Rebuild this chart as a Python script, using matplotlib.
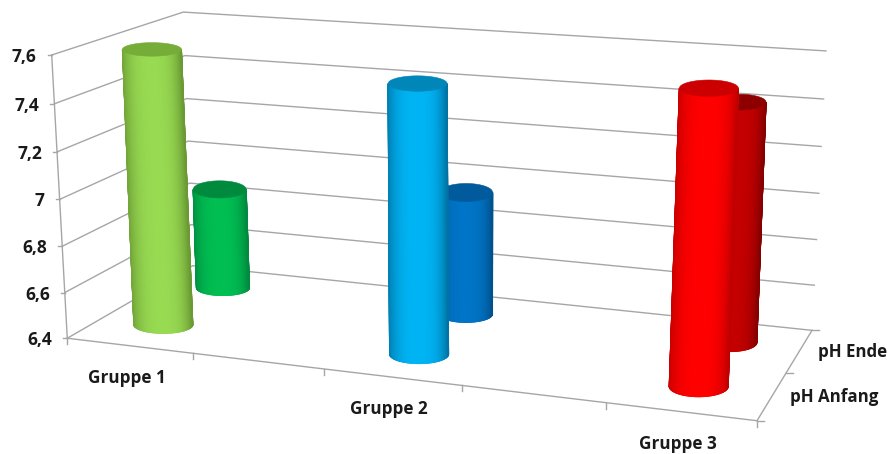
import numpy as np
import matplotlib
matplotlib.use("Agg")
import matplotlib.pyplot as plt
from matplotlib.collections import LineCollection
from matplotlib.colors import LinearSegmentedColormap

plt.rcParams["font.family"] = ["Open Sans", "DejaVu Sans"]

groups = ["Gruppe 1", "Gruppe 2", "Gruppe 3"]
group_slots = [0, 2, 4]
series = ["pH Anfang", "pH Ende"]
ph_start = [7.59, 7.525, 7.585]
ph_end = [6.86, 6.945, 7.42]
value_ticks = [6.4, 6.6, 6.8, 7.0, 7.2, 7.4, 7.6]
value_labels = ["6,4", "6,6", "6,8", "7", "7,2", "7,4", "7,6"]

# (center, edge, top) colours of each cylinder
start_colors = [("#98DA52", "#6A9A34", "#76AC38"),
                ("#00B4F4", "#0074A4", "#0086B8"),
                ("#FF0000", "#C00000", "#CC0000")]
end_colors = [("#00BE52", "#008A3E", "#008A3E"),
              ("#0074C6", "#00528E", "#005A9C"),
              ("#C40000", "#860000", "#8E0000")]

NX, NY = 5, 2
ZMIN, ZMAX = value_ticks[0], value_ticks[-1]
RY, RY_TOP = 0.22, 0.29
HALF_WIDTH = [29.5, 26.5]  # canvas pixels, front row and rear row
ROW_OFFSET = 0.52

# box corners on the canvas, used to solve the camera matrix
box_world = [(0, 0, ZMIN), (0, 0, ZMAX), (0, NY, ZMAX), (0, NY, ZMIN),
             (NX, NY, ZMAX), (NX, NY, ZMIN), (NX, 0, ZMIN)]
box_pixel = [(67, 338), (52, 55), (183, 12), (193, 266),
             (826, 51), (812, 330), (757, 421)]


def solve_camera(world, pixel):
    rows = []
    for (x, y, z), (u, v) in zip(world, pixel):
        z = (z - ZMIN) / (ZMAX - ZMIN)
        p = [x, y, z, 1]
        rows.append(p + [0, 0, 0, 0] + [-u * c for c in p])
        rows.append([0, 0, 0, 0] + p + [-v * c for c in p])
    return np.linalg.svd(np.array(rows, dtype=float))[2][-1].reshape(3, 4)


CAM = solve_camera(box_world, box_pixel)


def project(x, y, z):
    x, y, z = np.broadcast_arrays(x, y, z)
    z = (z - ZMIN) / (ZMAX - ZMIN)
    p = CAM @ np.array([x, y, z, np.ones_like(x)], dtype=float)
    return p[0] / p[2], p[1] / p[2]


def ring(cx, cy, z, half, ry, th):
    # level ellipse on the canvas around the projected centre
    uc, vc = project(cx, cy, z)
    _, v0 = project(cx, cy - ry, z)
    _, v1 = project(cx, cy + ry, z)
    return uc + half * np.cos(th), vc - (v0 - v1) / 2 * np.sin(th)


def cylinder(ax, cx, cy, value, half, colors, zorder):
    center, edge, top = colors
    cmap = LinearSegmentedColormap.from_list("body", [center, edge])
    # the half facing the viewer, left to right
    th = np.linspace(np.pi, 2 * np.pi, 73)
    bu, bv = ring(cx, cy, ZMIN, half, RY, th)
    tu, tv = ring(cx, cy, value, half, RY_TOP, th)
    off = np.cos(th)
    # left side stays lighter than the right one
    shade = np.abs(off) ** 3 * np.where(off < 0, 0.8, 1.0)
    ax.pcolormesh(np.array([bu, tu]), np.array([bv, tv]),
                  np.array([shade, shade]), cmap=cmap, vmin=0, vmax=1,
                  shading="gouraud", zorder=zorder)

    # thin outline to smooth the mesh border
    segs = [[(bu[i], bv[i]), (bu[i + 1], bv[i + 1])] for i in range(len(th) - 1)]
    seg_cols = [cmap((shade[i] + shade[i + 1]) / 2) for i in range(len(th) - 1)]
    segs += [[(bu[0], bv[0]), (tu[0], tv[0])], [(bu[-1], bv[-1]), (tu[-1], tv[-1])]]
    seg_cols += [cmap(shade[0]), cmap(shade[-1])]
    ax.add_collection(LineCollection(segs, colors=seg_cols, linewidths=0.8,
                                     zorder=zorder + 0.05))

    th = np.linspace(0, 2 * np.pi, 145)
    tu, tv = ring(cx, cy, value, half, RY_TOP, th)
    cap = ax.fill(tu, tv, color=top, lw=0.4, zorder=zorder + 0.1)[0]
    cap.set_snap(False)


fig = plt.figure(figsize=(8.93, 4.54), dpi=100)
ax = fig.add_axes([0, 0, 1, 1])
ax.set_xlim(0, 893)
ax.set_ylim(454, 0)
ax.axis("off")

grid = "#a6a6a6"
for v in value_ticks:
    u, w = project([0, 0, NX], [0, NY, NY], v)
    ax.plot(u, w, color=grid, lw=1, zorder=1)

# axis frame on the floor and the front left edge
u, w = project([0, NX, NX], [0, 0, NY], ZMIN)
ax.plot(u, w, color=grid, lw=1, zorder=1)
u, w = project([0, 0], [0, 0], [ZMIN, ZMAX])
ax.plot(u, w, color=grid, lw=1, zorder=1)

for v, lab in zip(value_ticks, value_labels):
    u, w = project(0, 0, v)
    ax.plot([u - 4, u], [w, w], color=grid, lw=1, zorder=1)
    ax.text(u - 15, w + 2, lab, ha="right", va="center", fontsize=12.5,
            fontweight="bold", color="#1a1a1a")

for i in range(NX + 1):
    u, w = project(i, 0, ZMIN)
    ax.plot([u, u], [w, w + 6], color=grid, lw=1, zorder=1)

for i in range(NY + 1):
    u, w = project(NX, i, ZMIN)
    ax.plot([u, u + 7], [w, w], color=grid, lw=1, zorder=1)

for name, slot in zip(groups, group_slots):
    u, w = project(slot + 0.5, 0, ZMIN)
    ax.text(u - 3, w + 32, name, ha="center", va="center", fontsize=12.3,
            fontweight="bold", color="#1a1a1a")

for i, name in enumerate(series):
    u, w = project(NX, i + 0.5, ZMIN)
    ax.text(u + 18, w + 1.5, name, ha="left", va="center", fontsize=12.2,
            fontweight="bold", color="#1a1a1a")

# rear row first so the front cylinders cover it
for slot, value, colors in zip(group_slots, ph_end, end_colors):
    cylinder(ax, slot + 0.5, 1 + ROW_OFFSET, value, HALF_WIDTH[1], colors, 2)
for slot, value, colors in zip(group_slots, ph_start, start_colors):
    cylinder(ax, slot + 0.5, ROW_OFFSET, value, HALF_WIDTH[0], colors, 3)

ax.set_xlim(0, 893)
ax.set_ylim(454, 0)
fig.savefig("out.png", dpi=100)
